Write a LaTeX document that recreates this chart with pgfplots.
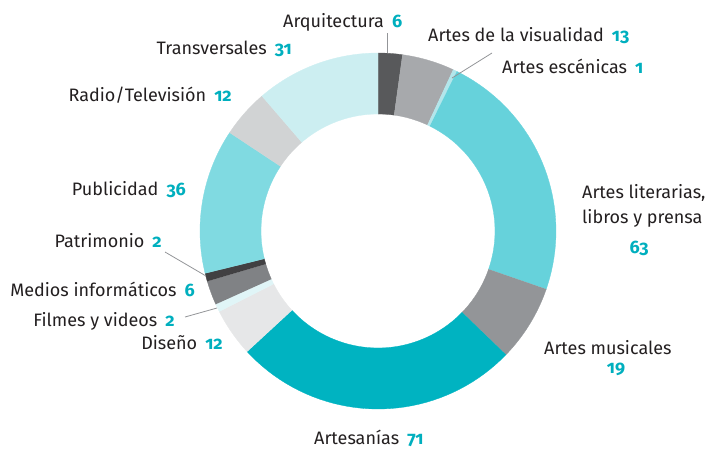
\documentclass[border=0pt]{standalone}
\usepackage{fontspec}
\setmainfont{Fira Sans}
\newfontfamily\numfont[Numbers=OldStyle]{Fira Sans}
\usepackage{pgfplots}
\usepackage{pgfplotstable}
\pgfplotsset{compat=1.18}

\definecolor{cArq}{HTML}{58595B}
\definecolor{cVis}{HTML}{A7A9AC}
\definecolor{cEsc}{HTML}{B3E6EB}
\definecolor{cLit}{HTML}{66D2DB}
\definecolor{cMus}{HTML}{939598}
\definecolor{cArt}{HTML}{00B3C1}
\definecolor{cDis}{HTML}{E6E7E8}
\definecolor{cFil}{HTML}{E0F5F7}
\definecolor{cMed}{HTML}{808285}
\definecolor{cPat}{HTML}{414042}
\definecolor{cPub}{HTML}{80DAE1}
\definecolor{cRad}{HTML}{D1D3D4}
\definecolor{cTra}{HTML}{CCEEF1}
\definecolor{cNum}{HTML}{00AFBE}
\definecolor{cText}{HTML}{231F20}
\definecolor{cLine}{HTML}{939598}

\tikzset{lbl/.style={font=\fontsize{18}{21}\selectfont, text=cText, inner sep=0pt}}

\pgfplotstableread[col sep=comma]{
label,value,color
Arquitectura,6,cArq
Artes de la visualidad,13,cVis
Artes escénicas,1,cEsc
Artes literarias,63,cLit
Artes musicales,19,cMus
Artesanías,71,cArt
Diseño,12,cDis
Filmes y videos,2,cFil
Medios informáticos,6,cMed
Patrimonio,2,cPat
Publicidad,36,cPub
Radio/Televisión,12,cRad
Transversales,31,cTra
}\donut

\newcommand\n[1]{{\numfont\bfseries\color{cNum}#1}}
\newcommand\gap{\hspace{0.45em}}
\def\donutcum{0}
\def\donuttotal{0}
\pgfplotstableforeachcolumnelement{value}\of\donut\as\v{%
  \pgfmathsetmacro\tmp{\donuttotal+\v}\xdef\donuttotal{\tmp}}
% centre (378,231), outer radius 178, inner radius 117 (pixel units, y downwards)
\newcommand\wedgeplot[2]{%
  \pgfmathsetmacro\aS{\donutcum/\donuttotal*360}%
  \pgfmathsetmacro\newcum{\donutcum+#1}%
  \pgfmathsetmacro\aE{\newcum/\donuttotal*360}%
  \xdef\donutcum{\newcum}%
  \edef\doplot{\noexpand\addplot[draw=#2, line width=0.3pt, fill=#2, samples at={0,1,...,81}]
    ({378 + (x<=40 ? 178 : 117)*sin(x<=40 ? \aS+x/40*(\aE-\aS) : \aE-(x-41)/40*(\aE-\aS))},
     {231 - (x<=40 ? 178 : 117)*cos(x<=40 ? \aS+x/40*(\aE-\aS) : \aE-(x-41)/40*(\aE-\aS))});}%
  \doplot
}

\begin{document}
\begin{tikzpicture}
\begin{axis}[
  scale only axis, width=709pt, height=450pt,
  xmin=0, xmax=709, ymin=0, ymax=450, y dir=reverse,
  hide axis, clip=false,
]
\pgfplotsforeachungrouped \i in {0,...,12}{%
  \pgfplotstablegetelem{\i}{value}\of\donut \let\val\pgfplotsretval
  \pgfplotstablegetelem{\i}{color}\of\donut \let\col\pgfplotsretval
  \wedgeplot{\val}{\col}%
}

% leader lines
\draw[cLine, line width=0.8pt] (axis cs:387.5,33) -- (axis cs:387.5,53);
\draw[cLine, line width=0.8pt] (axis cs:492,53) -- (axis cs:452,78);
\draw[cLine, line width=0.8pt] (axis cs:165,252) -- (axis cs:206,276);
\draw[cLine, line width=0.8pt] (axis cs:185,317) -- (axis cs:217,308);

% labels
\node[lbl, anchor=base west] at (axis cs:283,27) {Arquitectura\gap\n{6}};
\node[lbl, anchor=base west] at (axis cs:428,41) {Artes de la visualidad\gap\n{13}};
\node[lbl, anchor=base west] at (axis cs:502,73) {Artes escénicas\gap\n{1}};
\node[lbl, anchor=base west] at (axis cs:582,198) {Artes literarias,};
\node[lbl, anchor=base west] at (axis cs:582,223) {libros y prensa};
\node[lbl, anchor=base] at (axis cs:639,253) {\n{63}};
\node[lbl, anchor=base west] at (axis cs:544,354) {Artes musicales};
\node[lbl, anchor=base] at (axis cs:616,373) {\n{19}};
\node[lbl, anchor=base west] at (axis cs:314,444) {Artesanías\gap\n{71}};
\node[lbl, anchor=base east] at (axis cs:223,349) {Diseño\gap\n{12}};
\node[lbl, anchor=base east] at (axis cs:175,326) {Filmes y videos\gap\n{2}};
\node[lbl, anchor=base east] at (axis cs:195,296) {Medios informáticos\gap\n{6}};
\node[lbl, anchor=base east] at (axis cs:162,247) {Patrimonio\gap\n{2}};
\node[lbl, anchor=base east] at (axis cs:186,195) {Publicidad\gap\n{36}};
\node[lbl, anchor=base east] at (axis cs:232,101) {Radio/Televisión\gap\n{12}};
\node[lbl, anchor=base east] at (axis cs:292,54) {Transversales\gap\n{31}};
\end{axis}
\pgfresetboundingbox
\path[use as bounding box] (current axis.south west) rectangle (current axis.north east);
\end{tikzpicture}
\end{document}
